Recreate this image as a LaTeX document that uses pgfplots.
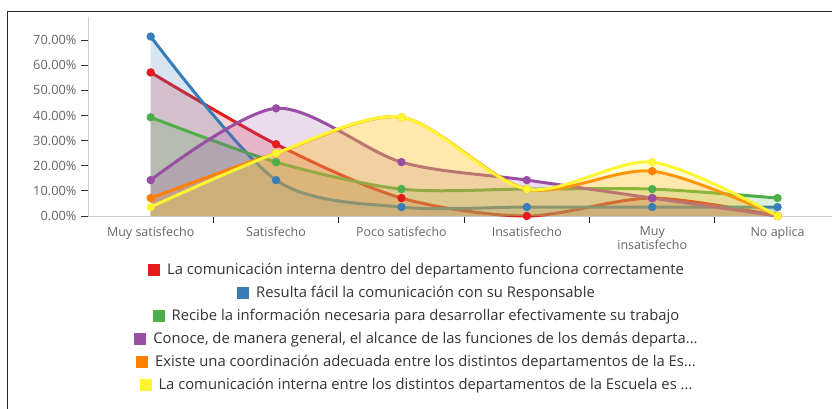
\documentclass[border=0pt]{standalone}
\usepackage{fontspec}
\setmainfont{Open Sans}
\usepackage{pgfplots}
\pgfplotsset{compat=1.18}
\definecolor{cred}{HTML}{E41A1C}
\definecolor{cblue}{HTML}{377EB8}
\definecolor{cgreen}{HTML}{4DAF4A}
\definecolor{cpurple}{HTML}{984EA3}
\definecolor{corange}{HTML}{FF7F00}
\definecolor{cyellow}{HTML}{FFF533}
\definecolor{axgray}{HTML}{D0D0D0}
\definecolor{tickgray}{HTML}{666666}
\newcommand{\sq}[1]{\textcolor{#1}{\rule[-1.2pt]{12pt}{12pt}}\hspace{7pt}}
\begin{document}
\begin{tikzpicture}
\useasboundingbox (0pt,0pt) rectangle (832pt,408pt);
\draw[line width=1.6pt, black!85] (7.5pt,-20pt) -- (7.5pt,396.5pt) -- (860pt,396.5pt);
\begin{axis}[
  at={(88pt,192pt)}, anchor=south west,
  scale only axis, width=746pt, height=199pt,
  xmin=-0.5, xmax=5.45, ymin=0, ymax=79.2,
  axis lines=left, axis line style={-, draw=axgray, line width=1pt},
  clip=false,
  xtick={0,1,2,3,4,5},
  xticklabels={Muy satisfecho, Satisfecho, Poco satisfecho, Insatisfecho, Muy\\insatisfecho, No aplica},
  xticklabel style={align=center, font=\fontsize{12.5}{14}\selectfont, text=tickgray},
  major x tick style={draw=none},
  minor xtick={0.5,1.5,2.5,3.5,4.5},
  minor x tick style={draw=black!85, line width=1pt},
  minor tick length=7pt,
  major tick length=7pt,
  tick align=outside,
  ytick={0,10,20,30,40,50,60,70},
  yticklabels={0.00\%,10.00\%,20.00\%,30.00\%,40.00\%,50.00\%,60.00\%,70.00\%},
  yticklabel style={font=\fontsize{12.8}{14}\selectfont, text=tickgray, xshift=-1pt},
  major y tick style={draw=black!80, line width=1pt},
  legend image code/.code={},
  legend cell align=center,
  legend style={at={(0.4397,-0.2447)}, anchor=north, draw=none, fill=none, inner sep=0pt,
    font=\fontsize{14.8}{16}\selectfont, text=black!80, row sep=10pt,
    nodes={inner sep=0pt, text height=10pt, text depth=3pt}},
]
% red
\addplot[draw=none, fill=cred, fill opacity=0.2, smooth, forget plot] coordinates {(0,57.14) (1,28.57) (2,7.14) (3,0) (4,7.14) (5,0)} \closedcycle;
\addplot[cred, line width=3pt, smooth, mark=*, mark size=2.6pt] coordinates {(0,57.14) (1,28.57) (2,7.14) (3,0) (4,7.14) (5,0)};
\addlegendentry{\sq{cred}La comunicación interna dentro del departamento funciona correctamente}
% blue
\addplot[draw=none, fill=cblue, fill opacity=0.2, smooth, forget plot] coordinates {(0,71.43) (1,14.29) (2,3.57) (3,3.57) (4,3.57) (5,3.57)} \closedcycle;
\addplot[cblue, line width=3pt, smooth, mark=*, mark size=2.6pt] coordinates {(0,71.43) (1,14.29) (2,3.57) (3,3.57) (4,3.57) (5,3.57)};
\addlegendentry{\sq{cblue}Resulta fácil la comunicación con su Responsable}
% green
\addplot[draw=none, fill=cgreen, fill opacity=0.2, smooth, forget plot] coordinates {(0,39.29) (1,21.43) (2,10.71) (3,10.71) (4,10.71) (5,7.14)} \closedcycle;
\addplot[cgreen, line width=3pt, smooth, mark=*, mark size=2.6pt] coordinates {(0,39.29) (1,21.43) (2,10.71) (3,10.71) (4,10.71) (5,7.14)};
\addlegendentry{\sq{cgreen}Recibe la información necesaria para desarrollar efectivamente su trabajo}
% purple
\addplot[draw=none, fill=cpurple, fill opacity=0.2, smooth, forget plot] coordinates {(0,14.29) (1,42.86) (2,21.43) (3,14.29) (4,7.14) (5,0)} \closedcycle;
\addplot[cpurple, line width=3pt, smooth, mark=*, mark size=2.6pt] coordinates {(0,14.29) (1,42.86) (2,21.43) (3,14.29) (4,7.14) (5,0)};
\addlegendentry{\sq{cpurple}Conoce, de manera general, el alcance de las funciones de los demás departa...}
% orange
\addplot[draw=none, fill=corange, fill opacity=0.2, smooth, forget plot] coordinates {(0,7.14) (1,25.0) (2,39.29) (3,10.71) (4,17.86) (5,0)} \closedcycle;
\addplot[corange, line width=3pt, smooth, mark=*, mark size=2.6pt] coordinates {(0,7.14) (1,25.0) (2,39.29) (3,10.71) (4,17.86) (5,0)};
\addlegendentry{\sq{corange}Existe una coordinación adecuada entre los distintos departamentos de la Es...}
% yellow
\addplot[draw=none, fill=cyellow, fill opacity=0.2, smooth, forget plot] coordinates {(0,3.57) (1,25.0) (2,39.29) (3,10.71) (4,21.43) (5,0)} \closedcycle;
\addplot[cyellow, line width=3pt, smooth, mark=*, mark size=2.6pt] coordinates {(0,3.57) (1,25.0) (2,39.29) (3,10.71) (4,21.43) (5,0)};
\addlegendentry{\sq{cyellow}La comunicación interna entre los distintos departamentos de la Escuela es ...}
\end{axis}
\end{tikzpicture}
\end{document}
